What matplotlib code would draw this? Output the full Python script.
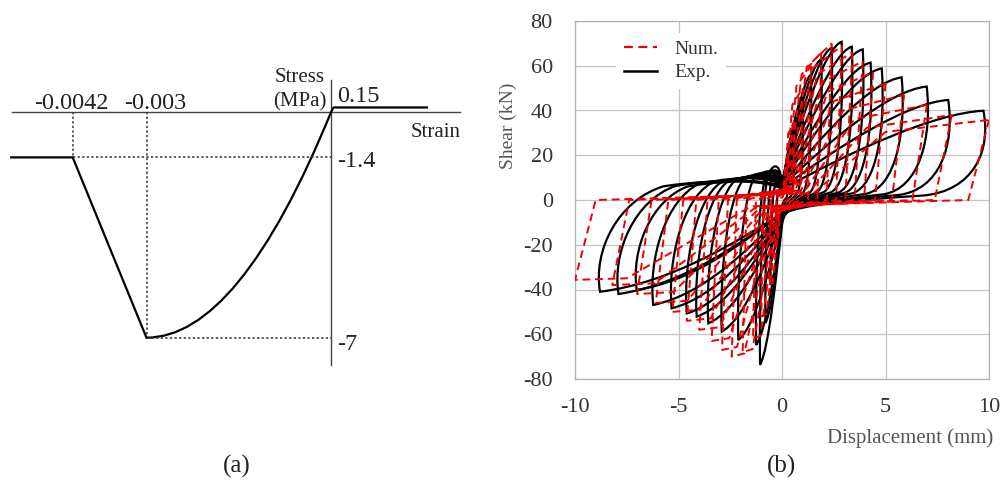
import numpy as np
import matplotlib.pyplot as plt
from matplotlib.path import Path
from matplotlib.patches import PathPatch

plt.rcParams['font.family'] = ['Liberation Serif', 'DejaVu Serif']
plt.rcParams['axes.unicode_minus'] = False

# ---------------- data: (a) concrete stress-strain model ----------------
env_strain = [-0.0052, -0.0042, -0.003]      # residual plateau + softening branch
env_stress = [-1.4, -1.4, -7.0]
peak_strain, peak_stress = -0.003, -7.0
ten_strain = [0.0, 0.00004, 0.00156]         # tension branch
ten_stress = [0.0, 0.15, 0.15]
resid_strain, resid_stress = -0.0042, -1.4

# ---------------- data: (b) hysteresis peaks per cycle ----------------
exp_pos_disp = [0.3, 0.6, 1.0, 1.4, 1.9, 2.4, 2.88, 3.37, 3.9, 4.28, 4.82, 5.78, 6.99, 8.03, 9.73]
exp_pos_force = [18, 33, 46, 56, 63, 68, 70.7, 68.5, 67.3, 61.4, 58.8, 54.8, 50.7, 44.7, 39.9]
exp_neg_disp = [-0.3, -0.55, -0.8, -1.06, -1.25, -2.11, -2.91, -3.56, -4.12, -4.6, -5.33, -6.22, -7.02, -7.9, -8.79]
exp_neg_force = [-20, -38, -55, -73.7, -64.8, -62.6, -58.8, -55.1, -52.1, -50.7, -48.4, -46.9, -40.2, -42.0, -41.0]

num_pos_disp = [0.3, 0.6, 1.0, 1.4, 1.9, 2.4, 2.9, 3.4, 3.9, 4.4, 5.0, 5.9, 7.0, 8.2, 10.0]
num_pos_force = [18, 35, 50, 60, 66, 70, 69, 66, 62, 57, 52, 47, 42.5, 38, 35.8]
num_neg_disp = [-0.3, -0.6, -1.0, -1.4, -1.9, -2.43, -2.9, -3.4, -4.0, -4.6, -5.3, -6.1, -7.0, -8.2, -10.0]
num_neg_force = [-20, -38, -52, -62, -68, -70, -67, -63, -58, -54, -50, -46, -42, -38, -35.7]

x_ticks = [-10, -5, 0, 5, 10]
y_ticks = [-80, -60, -40, -20, 0, 20, 40, 60, 80]

W, H = 1005, 487
fig = plt.figure(figsize=(W / 100, H / 100), dpi=100)


def px_box(x0, y0, x1, y1):
    return [x0 / W, 1 - y1 / H, (x1 - x0) / W, (y1 - y0) / H]


# ================= panel (a) =================
ax = fig.add_axes(px_box(0, 60, 470, 380))
ax.axis('off')
sx0, kx = 331, 61500.0
sy0, ky = 112.3, 32.2
ax.set_xlim(-sx0 / kx, (470 - sx0) / kx)
ax.set_ylim(-(380 - sy0) / ky, (sy0 - 60) / ky)


def sx(px):
    return (px - sx0) / kx


def sy(py):
    return (sy0 - py) / ky


ink = '#222222'
ax.plot([sx(12), sx(460)], [0, 0], color='#444444', lw=1.0)
ax.plot([0, 0], [sy(80), sy(365)], color='#444444', lw=1.0)

dot = dict(color='#333333', lw=1.1, ls=(0, (1.5, 1.5)))
ax.plot([resid_strain, resid_strain], [0, resid_stress], **dot)
ax.plot([peak_strain, peak_strain], [0, peak_stress], **dot)
ax.plot([resid_strain, 0], [resid_stress, resid_stress], **dot)
ax.plot([peak_strain, 0], [peak_stress, peak_stress], **dot)

ax.plot(env_strain, env_stress, color='black', lw=1.6, solid_joinstyle='miter')
# parabolic ascending branch (quadratic Bezier = exact parabola)
para = Path([(peak_strain, peak_stress), (peak_strain / 2, peak_stress), (0, 0)],
            [Path.MOVETO, Path.CURVE3, Path.CURVE3])
ax.add_patch(PathPatch(para, fill=False, color='black', lw=1.6))
ax.plot(ten_strain, ten_stress, color='black', lw=1.6)

fs_num, fs_word = 17.5, 15
ax.text(sx(71.5), sy(109), '-0.0042', ha='center', va='baseline', fontsize=fs_num, color=ink)
ax.text(sx(155.5), sy(109), '-0.003', ha='center', va='baseline', fontsize=fs_num, color=ink)
ax.text(sx(300), sy(82), 'Stress', ha='center', va='baseline', fontsize=fs_word, color=ink)
ax.text(sx(300), sy(106), '(MPa)', ha='center', va='baseline', fontsize=fs_word, color=ink)
ax.text(sx(337), sy(102), '0.15', ha='left', va='baseline', fontsize=fs_num, color=ink)
ax.text(sx(436), sy(137), 'Strain', ha='center', va='baseline', fontsize=fs_word, color=ink)
ax.text(sx(337), sy(167), '-1.4', ha='left', va='baseline', fontsize=fs_num, color=ink)
ax.text(sx(337), sy(350), '-7', ha='left', va='baseline', fontsize=fs_num, color=ink)

fig.text(237 / W, 1 - 466 / H, '(a)', ha='center', va='center', fontsize=18, color=ink)
fig.text(782 / W, 1 - 466 / H, '(b)', ha='center', va='center', fontsize=18, color=ink)

# ================= panel (b) =================
bx = fig.add_axes(px_box(575, 21, 989, 379))
bx.set_xlim(-10, 10)
bx.set_ylim(-80, 80)
bx.set_xticks(x_ticks)
bx.set_yticks(y_ticks)
bx.grid(True, color='#c4c4c4', lw=0.9)
bx.set_axisbelow(True)
for s in bx.spines.values():
    s.set_color('#b0b0b0')
    s.set_linewidth(0.9)
bx.tick_params(length=0, labelsize=16, labelcolor='#333333')
bx.tick_params(axis='x', pad=14)
bx.tick_params(axis='y', pad=16)

# experimental loops: smooth pinched "leaf" loops through the cycle peaks
C4 = Path.CURVE4
for dp, fp, dn, fn in zip(exp_pos_disp, exp_pos_force, exp_neg_disp, exp_neg_force):
    an = abs(fn)
    verts = [(0, 0.12 * fp),
             (0.35 * dp, 0.55 * fp), (0.75 * dp, 0.97 * fp), (dp, fp),
             (1.04 * dp, 0.55 * fp), (0.95 * dp, 0.1 * fp), (0.7 * dp, 0.05 * fp),
             (0.35 * dp, 0.0), (0.1 * dp, -0.05 * an), (0, -0.15 * an),
             (0.25 * dn, 0.45 * fn), (0.6 * dn, 0.9 * fn), (dn, fn),
             (1.04 * dn, 0.55 * fn), (0.9 * dn, 0.0), (0.65 * dn, 0.15 * an),
             (0.3 * dn, 0.25 * an), (0.05 * dn, 0.2 * an), (0, 0.12 * fp)]
    codes = [Path.MOVETO] + [C4] * 18
    bx.add_patch(PathPatch(Path(verts, codes), fill=False, color='black', lw=1.6, zorder=3))

# numerical loops: multilinear pinched loops
for dp, fp, dn, fn in zip(num_pos_disp, num_pos_force, num_neg_disp, num_neg_force):
    lx = [dp, 0.9 * dp, 0.15 * dn, 0.75 * dn, dn, 0.9 * dn, 0.15 * dp, 0.5 * dp, dp]
    ly = [fp, 0, 0.08 * fn, 0.98 * fn, fn, 0, 0.08 * fp, 0.85 * fp, fp]
    bx.plot(lx, ly, color='#ee0000', lw=1.4, ls=(0, (4, 2.5)), zorder=4)

bx.plot([], [], color='#ee0000', lw=1.6, ls=(0, (4, 2.5)), label='Num.')
bx.plot([], [], color='black', lw=1.8, label='Exp.')
leg = bx.legend(loc='upper left', bbox_to_anchor=(0.075, 0.995), fontsize=14,
                frameon=True, framealpha=1, edgecolor='none', facecolor='white',
                handlelength=1.7, labelspacing=0.3, handletextpad=0.9, borderpad=0.4,
                fancybox=False)
for t in leg.get_texts():
    t.set_color('#333333')

bx.set_xlabel('Displacement (mm)', fontsize=15, color='#555555', loc='right')
bx.xaxis.set_label_coords(1.01, -0.137)
bx.set_ylabel('Shear (kN)', fontsize=14, color='#555555')
bx.yaxis.set_label_coords(-0.140, 0.707)

fig.savefig('out.png', dpi=100, facecolor='white')
